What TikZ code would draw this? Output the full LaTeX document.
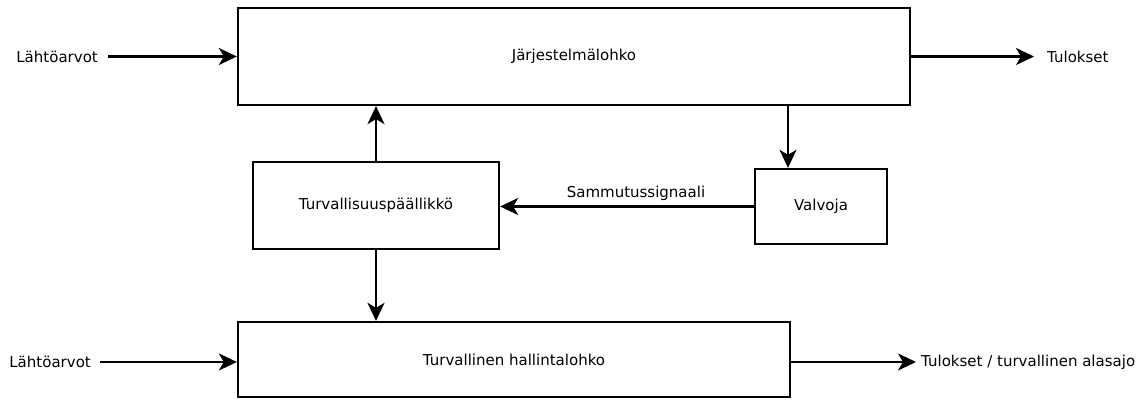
\documentclass[tikz,border=0pt]{standalone}
\usepackage{fontspec}
\setmainfont{DejaVu Sans}
\usetikzlibrary{arrows.meta}
\begin{document}
\begin{tikzpicture}[x=1pt,y=1pt,
  blk/.style={draw, line width=2.3pt, minimum width=#1, inner sep=0pt},
  lbl/.style={font=\fontsize{15}{17}\selectfont, inner sep=0pt},
  conn/.style={line width=2.3pt, -{Stealth[length=18pt,width=17pt,inset=5pt]}}]
\useasboundingbox (0,0) rectangle (1148,403);
% blocks
\node[blk=672pt, minimum height=97pt, lbl] (sys) at (574,346.5) {Järjestelmälohko};
\node[blk=246pt, minimum height=87pt, lbl] (tp) at (376,197.5) {Turvallisuuspäällikkö};
\node[blk=132pt, minimum height=75pt, lbl] (val) at (821,196.5) {Valvoja};
\node[blk=552pt, minimum height=75pt, lbl] (safe) at (514,43.5) {Turvallinen hallintalohko};
% labels
\node[lbl, anchor=east] (in1t) at (98,346) {Lähtöarvot};
\node[lbl, anchor=east] (in2t) at (91,41) {Lähtöarvot};
\node[lbl, anchor=west] (out1t) at (1047,346) {Tulokset};
\node[lbl, anchor=west] (out2t) at (921,41) {Tulokset / turvallinen alasajo};
% free ends
\coordinate (in1) at (108,346.5);
\coordinate (in2) at (100,41);
\coordinate (out1) at (1034,346.5);
\coordinate (out2) at (916,41);
\coordinate (vx) at (788,0);
% connectors
\draw[conn] (in1) -- (sys.west |- in1);
\draw[conn] (sys.east |- out1) -- (out1);
\draw[conn] (sys.south -| vx) -- (val.north -| vx);
\draw[conn] (val.west) -- (tp.east |- val.west) node[midway, above=5pt, lbl, xshift=9pt] (sig) {Sammutussignaali};
\draw[conn] (tp.north) -- (sys.south -| tp.north);
\draw[conn] (tp.south) -- (safe.north -| tp.south);
\draw[conn] (in2) -- (safe.west |- in2);
\draw[conn] (safe.east |- out2) -- (out2);
\end{tikzpicture}
\end{document}
